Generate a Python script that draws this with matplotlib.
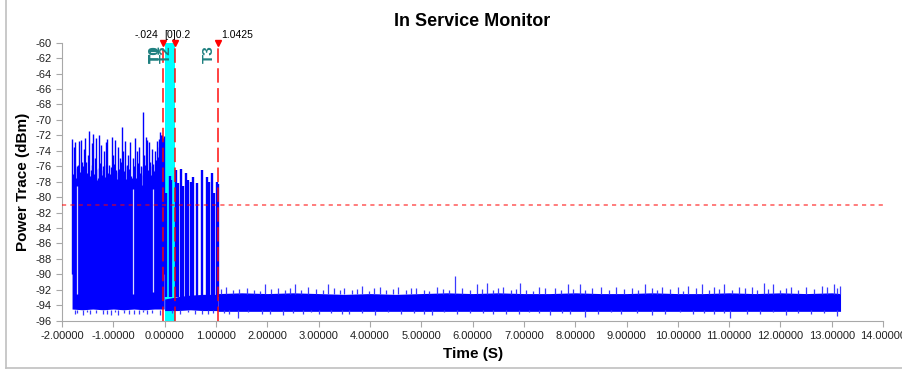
import matplotlib
matplotlib.use("Agg")
import matplotlib.pyplot as plt
from matplotlib.lines import Line2D
from matplotlib.ticker import FuncFormatter, MultipleLocator

plt.rcParams['font.family'] = ['Liberation Sans', 'DejaVu Sans']

# --- trace before the trigger: dense burst block plus its spikes ---
pre_t = [-1.805, -1.6, -1.4, -1.2, -1.0, -0.8, -0.6, -0.4, -0.2, -0.01]
pre_top = [-78.8, -78.4, -78.9, -78.6, -78.3, -78.9, -78.6, -78.4, -78.7, -78.2]
pre_bot = [-94.5, -94.6, -94.5, -94.6, -94.5, -94.6, -94.5, -94.6, -94.5, -94.5]

pre_spike_t = [-1.80, -1.77, -1.74, -1.70, -1.67, -1.64, -1.61, -1.58, -1.55, -1.52,
               -1.49, -1.47, -1.44, -1.41, -1.39, -1.36, -1.33, -1.30, -1.27, -1.24,
               -1.21, -1.18, -1.15, -1.12, -1.09, -1.06, -1.03, -1.00, -0.97, -0.94,
               -0.91, -0.88, -0.84, -0.81, -0.77, -0.74, -0.71, -0.67, -0.64, -0.61,
               -0.58, -0.54, -0.51, -0.47, -0.43, -0.40, -0.37, -0.34, -0.31, -0.28,
               -0.25, -0.22, -0.18, -0.15, -0.12, -0.09, -0.06, -0.04, -0.02]
pre_spike_top = [-72.5, -73.5, -72.8, -76.0, -72.7, -72.6, -75.5, -73.8, -72.3, -77.0,
                 -74.5, -71.4, -76.5, -73.0, -71.8, -75.0, -72.4, -77.5, -72.0, -73.2,
                 -76.0, -74.0, -72.8, -72.5, -75.8, -77.0, -72.2, -74.5, -72.6, -76.5,
                 -73.5, -75.0, -70.9, -74.0, -72.7, -76.0, -74.5, -72.9, -77.5, -75.0,
                 -72.4, -74.0, -73.5, -76.0, -69.0, -74.5, -72.2, -72.6, -72.8, -75.5,
                 -73.8, -76.5, -74.0, -72.7, -73.5, -71.6, -72.0, -72.3, -72.1]
# shorter bursts filling the band just above the block
pre_short_t = [-1.785, -1.755, -1.72, -1.685, -1.655, -1.625, -1.595, -1.565, -1.535,
               -1.505, -1.455, -1.425, -1.375, -1.345, -1.315, -1.285, -1.255, -1.225,
               -1.195, -1.165, -1.135, -1.105, -1.075, -1.045, -1.015, -0.985, -0.955,
               -0.925, -0.895, -0.86, -0.825, -0.79, -0.755, -0.725, -0.69, -0.655,
               -0.595, -0.565, -0.525, -0.49, -0.455, -0.415, -0.385, -0.355, -0.325,
               -0.295, -0.265, -0.235, -0.20, -0.165, -0.135, -0.105, -0.075]
pre_short_top = [-77.0, -76.2, -77.5, -75.8, -76.8, -77.2, -76.0, -77.6, -75.5,
                 -76.9, -77.3, -75.9, -77.0, -76.4, -77.8, -76.2, -75.6, -77.1,
                 -76.5, -77.4, -75.8, -76.9, -77.5, -76.1, -77.0, -75.7, -76.8,
                 -77.6, -76.3, -75.4, -77.2, -76.6, -77.7, -75.9, -76.4, -77.3,
                 -76.0, -77.5, -75.6, -76.9, -77.2, -76.1, -75.8, -77.4, -76.5,
                 -76.0, -77.1, -75.7, -76.6, -75.2, -74.8, -72.5, -72.0]

# short dropouts inside the burst block
gap_t = [-1.71, -0.62, -0.22]
gap_top = [-78.5, -79.0, -79.0]
gap_bot = [-92.5, -92.6, -92.3]

# --- trace between trigger and T3: floor with isolated bursts ---
mid_t = [0.0, 0.25, 0.5, 0.75, 1.04]
mid_top = [-93.2, -92.9, -92.7, -92.6, -92.6]
mid_bot = [-94.7, -94.7, -94.6, -94.7, -94.7]
mid_spike_t = [0.02, 0.105, 0.13, 0.22, 0.25, 0.31, 0.36, 0.41, 0.45, 0.515,
               0.55, 0.625, 0.72, 0.83, 0.87, 0.92, 0.97, 1.015, 1.03]
mid_spike_top = [-79.5, -77.3, -77.8, -76.5, -78.2, -76.4, -78.6, -76.9, -77.8, -78.0,
                 -77.4, -78.2, -76.5, -77.4, -78.0, -76.9, -79.5, -78.0, -78.3]

# --- noise floor after T3 ---
floor_t = [1.04, 1.5, 2.0, 2.5, 3.0, 3.5, 4.0, 4.5, 5.0, 5.5, 6.0, 6.5, 7.0,
           7.5, 8.0, 8.5, 9.0, 9.5, 10.0, 10.5, 11.0, 11.5, 12.0, 12.5, 13.0, 13.17]
floor_top = [-92.5, -92.4, -92.5, -92.4, -92.5, -92.6, -92.5, -92.6, -92.5, -92.4,
             -92.5, -92.4, -92.5, -92.5, -92.4, -92.5, -92.5, -92.4, -92.5, -92.5,
             -92.4, -92.5, -92.4, -92.5, -92.4, -92.5]
floor_bot = -94.8

up_t = [1.2, 1.45, 1.96, 2.2, 2.54, 2.8, 3.19, 3.5, 3.85, 4.2, 4.55, 4.9, 5.3, 5.66,
        6.08, 6.28, 6.6, 6.93, 7.3, 7.6, 7.86, 8.10, 8.5, 8.8, 9.1, 9.36, 9.7, 10.0,
        10.2, 10.47, 10.7, 10.89, 11.2, 11.45, 11.67, 11.86, 12.2, 12.5, 12.8, 13.04, 13.15]
up_top = [-91.6, -91.9, -91.2, -91.8, -91.2, -91.7, -91.2, -91.8, -91.5, -91.7, -91.6,
          -91.8, -91.6, -90.2, -91.3, -91.1, -91.7, -91.1, -91.6, -91.8, -91.3, -91.3,
          -91.7, -91.6, -91.8, -91.2, -91.6, -91.7, -91.5, -91.2, -91.7, -91.3, -91.6,
          -91.6, -91.1, -91.2, -91.6, -91.7, -91.5, -91.3, -91.5]
jag_t = [1.1, 1.33, 1.6, 1.75, 1.85, 2.08, 2.35, 2.45, 2.65, 2.95, 3.08, 3.3, 3.42,
         3.65, 3.75, 3.98, 4.08, 4.32, 4.45, 4.7, 4.8, 5.05, 5.15, 5.42, 5.55, 5.8,
         5.95, 6.18, 6.4, 6.5, 6.75, 6.85, 7.05, 7.18, 7.42, 7.72, 7.95, 8.2, 8.32,
         8.65, 8.95, 9.22, 9.5, 9.6, 9.85, 10.1, 10.35, 10.6, 10.8, 11.05, 11.3,
         11.55, 11.75, 12.0, 12.1, 12.35, 12.65, 12.9, 13.1]
jag_top = [-91.9, -92.1, -91.8, -92.0, -92.2, -91.9, -92.0, -91.8, -92.1, -91.9,
           -92.0, -91.8, -92.1, -92.0, -91.9, -92.2, -91.8, -92.0, -91.9, -92.1,
           -91.8, -92.0, -92.2, -91.9, -92.0, -91.8, -92.1, -91.9, -92.0, -91.8,
           -92.1, -91.9, -92.0, -92.2, -91.8, -92.0, -91.9, -92.1, -91.8, -92.0,
           -91.9, -92.1, -91.8, -92.0, -91.9, -92.2, -91.8, -92.0, -91.9, -92.1,
           -91.8, -92.0, -91.9, -92.1, -91.8, -92.0, -91.9, -91.7, -91.8]
down_t = [-1.75, -1.6, -1.45, -1.2, -1.05, -0.9, -0.7, -0.5, -0.35, -0.1, 0.3, 0.6,
          0.85, 1.25, 1.43, 1.9, 2.3, 2.7, 3.0, 3.6, 4.1, 4.6, 5.2, 5.7, 6.4, 6.9,
          7.5, 7.9, 8.19, 8.9, 9.5, 10.3, 10.7, 11.02, 11.6, 12.1, 12.6, 13.1]
down_low = [-95.2, -95.3, -95.1, -95.2, -95.3, -95.3, -95.1, -95.2, -95.1, -95.3,
            -95.2, -95.2, -95.1, -95.2, -95.6, -95.2, -95.3, -95.1, -95.2, -95.1,
            -95.3, -95.2, -95.3, -95.1, -95.2, -95.2, -95.3, -95.1, -95.5, -95.2,
            -95.3, -95.2, -95.1, -95.7, -95.2, -95.3, -95.1, -95.4]
low_jag_t = [-1.7, -1.52, -1.33, -1.13, -0.97, -0.8, -0.6, -0.42, -0.25, 0.15, 0.45,
             0.72, 0.95, 1.15, 1.62, 2.05, 2.5, 2.85, 3.25, 3.45, 3.85, 4.35, 4.85,
             5.05, 5.45, 5.95, 6.2, 6.65, 7.1, 7.3, 7.75, 8.45, 8.7, 9.2, 9.75, 10.05,
             10.5, 10.9, 11.35, 11.85, 12.35, 12.85]
low_jag_low = [-95.0, -94.9, -95.0, -95.1, -94.9, -95.0, -95.1, -94.9, -95.0, -95.0,
               -94.9, -95.1, -95.0, -95.0, -94.9, -95.1, -95.0, -94.9, -95.0, -95.1,
               -95.0, -94.9, -95.0, -95.1, -94.9, -95.0, -95.0, -95.1, -94.9, -95.0,
               -95.0, -95.1, -94.9, -95.0, -95.1, -94.9, -95.0, -95.0, -95.1, -94.9,
               -95.0, -95.0]

# markers
mark_t = [-0.024, 0.2, 1.0425]
mark_name = ['T0', 'T2', 'T3']
mark_val = ['-.024', '0.2', '1.0425']
span_t = (0.0, 0.2)
threshold = -81

blue = '#0000ff'
edge = '#3a3aff'

fig = plt.figure(figsize=(9.03, 3.70), dpi=100)
ax = fig.add_axes([0.0687, 0.1335, 0.9093, 0.7511])

ax.axvspan(span_t[0], span_t[1], color='#00ffff', zorder=1, lw=0)

# burst block
ax.fill_between(pre_t, pre_bot, pre_top, color=blue, lw=0, zorder=2)
ax.vlines(pre_spike_t, -90, pre_spike_top, color=blue, lw=1.0, zorder=2)
ax.vlines(pre_short_t, -90, pre_short_top, color=blue, lw=1.0, zorder=2)
ax.vlines(gap_t, gap_bot, gap_top, color='white', lw=0.9, alpha=0.85, zorder=3)

# floor after trigger
ax.fill_between(mid_t, mid_bot, mid_top, color=blue, lw=0, zorder=2)
ax.vlines(mid_spike_t, -93, mid_spike_top, color=blue, lw=1.7, zorder=2)

ax.fill_between(floor_t, floor_bot, floor_top, color=blue, lw=0, zorder=2)
ax.vlines(up_t, -92.5, up_top, color=edge, lw=0.9, zorder=2)
ax.vlines(jag_t, -92.5, jag_top, color=edge, lw=0.9, zorder=2)
ax.vlines(down_t, -94.6, down_low, color=edge, lw=0.9, zorder=2)
ax.vlines(low_jag_t, -94.6, low_jag_low, color=edge, lw=0.9, zorder=2)

# threshold line
ax.axhline(threshold, color='red', ls=(0, (2.5, 2.5)), lw=1.2, alpha=0.6, zorder=4)

# marker lines, triangles and labels
for t, name in zip(mark_t, mark_name):
    ax.axvline(t, color='red', ls=(0, (8, 3)), lw=1.3, alpha=0.8, zorder=4)
    ax.plot([t], [-60], marker='v', color='red', ms=5, clip_on=False, zorder=5)
    ax.annotate(name, xy=(t, -60), xytext=(-6.5, -2), textcoords='offset points',
                rotation=90, ha='center', va='top', color='#1f8080',
                fontsize=11, fontweight='bold', zorder=6)
ax.annotate('T1', xy=(0.0, -60), xytext=(-6.5, -2), textcoords='offset points',
            rotation=90, ha='center', va='top', color='#1f8080',
            fontsize=11, fontweight='bold', zorder=6)

ax.annotate(mark_val[0], xy=(mark_t[0], -60), xytext=(-4, 2), textcoords='offset points',
            ha='right', va='bottom', fontsize=7.5)
ax.annotate('[0]' + mark_val[1], xy=(0.0, -60), xytext=(0, 2), textcoords='offset points',
            ha='left', va='bottom', fontsize=7.5)
ax.annotate(mark_val[2], xy=(mark_t[2], -60), xytext=(2.5, 2), textcoords='offset points',
            ha='left', va='bottom', fontsize=7.5)

ax.set_xlim(-2, 14)
ax.set_ylim(-96, -60)
ax.xaxis.set_major_locator(MultipleLocator(1))
ax.yaxis.set_major_locator(MultipleLocator(2))
ax.xaxis.set_major_formatter(FuncFormatter(lambda v, p: f"{v:.5f}"))
ax.yaxis.set_major_formatter(FuncFormatter(lambda v, p: f"{v:.0f}"))

for s in ['top', 'right']:
    ax.spines[s].set_visible(False)
for s in ['left', 'bottom']:
    ax.spines[s].set_color('#a8a8a8')
ax.tick_params(colors='#a8a8a8', labelcolor='#222222', labelsize=8, length=4)

ax.set_title('In Service Monitor', fontsize=13, fontweight='bold', pad=12)
ax.set_xlabel('Time (S)', fontsize=11, fontweight='bold', labelpad=4)
ax.set_ylabel('Power Trace (dBm)', fontsize=11, fontweight='bold', labelpad=4)

# panel frame
fig.add_artist(Line2D([0.0066, 0.0066], [0.0054, 1.0], color='#c0c0c0', lw=1.2,
                      transform=fig.transFigure))
fig.add_artist(Line2D([0.0066, 1.0], [0.0054, 0.0054], color='#c0c0c0', lw=1.2,
                      transform=fig.transFigure))

fig.savefig('out.png', dpi=100)
